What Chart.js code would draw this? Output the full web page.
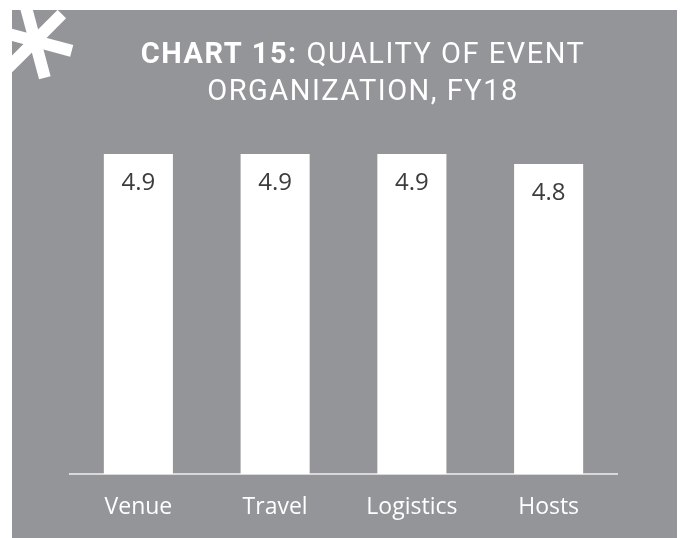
<!DOCTYPE html>
<html>
<head>
<meta charset="utf-8">
<script src="https://cdn.jsdelivr.net/npm/chart.js@4.4.0/dist/chart.umd.min.js"></script>
<style>
  html, body { margin: 0; padding: 0; background: #fff; }
  #wrap { position: relative; width: 680px; height: 538px; }
</style>
</head>
<body>
<div id="wrap"><canvas id="chart" width="680" height="538"></canvas></div>
<script>
const categories = ['Venue', 'Travel', 'Logistics', 'Hosts']
const scores = [4.9, 4.9, 4.9, 4.8]
const titleBold = 'CHART 15:'
const titleRest = ' QUALITY OF EVENT'
const titleLine2 = 'ORGANIZATION, FY18'

const PANEL = '#939598'

// gray panel, asterisk and two-line title
const backdrop = {
  id: 'backdrop',
  beforeDraw(chart) {
    const ctx = chart.ctx
    ctx.save()
    ctx.fillStyle = PANEL
    ctx.fillRect(12, 10, 665, 528)

    // asterisk, clipped to the panel
    ctx.beginPath()
    ctx.rect(12, 10, 665, 528)
    ctx.clip()
    ctx.fillStyle = '#fff'
    const cx = 35, cy = 41
    for (let i = 0; i < 6; i++) {
      const a = (15 + i * 60) * Math.PI / 180
      ctx.save()
      ctx.translate(cx, cy)
      ctx.rotate(a)
      ctx.fillRect(0, -6, 38, 12)
      ctx.restore()
    }
    ctx.restore()

    ctx.save()
    ctx.fillStyle = '#fff'
    ctx.textBaseline = 'alphabetic'
    ctx.letterSpacing = '1.5px'
    const bold = 'bold 29px Roboto'
    const reg = '29px Roboto'
    ctx.font = bold
    const wb = ctx.measureText(titleBold).width
    ctx.font = reg
    const wr = ctx.measureText(titleRest).width
    const x0 = 363 - (wb + wr) / 2
    ctx.font = bold
    ctx.textAlign = 'left'
    ctx.fillText(titleBold, x0, 63)
    ctx.font = reg
    ctx.fillText(titleRest, x0 + wb, 63)
    const w2 = ctx.measureText(titleLine2).width
    ctx.fillText(titleLine2, 363 - w2 / 2, 100)
    ctx.restore()
  }
}

// value inside the top of each bar
const barValues = {
  id: 'barValues',
  afterDatasetsDraw(chart) {
    const ctx = chart.ctx
    const meta = chart.getDatasetMeta(0)
    ctx.save()
    ctx.fillStyle = '#3c3c3c'
    ctx.font = '24px "Open Sans"'
    ctx.textAlign = 'center'
    ctx.textBaseline = 'middle'
    meta.data.forEach((bar, i) => {
      ctx.fillText(scores[i].toFixed(1), bar.x, bar.y + 29)
    })
    ctx.restore()
  }
}

new Chart(document.getElementById('chart'), {
  type: 'bar',
  data: {
    labels: categories,
    datasets: [{
      data: scores,
      backgroundColor: '#ffffff',
      borderWidth: 0,
      barPercentage: 0.505,
      categoryPercentage: 1.0,
    }],
  },
  options: {
    responsive: false,
    animation: false,
    layout: { padding: { top: 144, left: 70, right: 63, bottom: 0 } },
    plugins: {
      legend: { display: false },
      title: { display: false },
      tooltip: { enabled: false },
    },
    scales: {
      x: {
        grid: { display: false, drawTicks: false },
        border: { display: true, color: '#d9d9da', width: 2 },
        ticks: {
          color: '#ffffff',
          font: { family: '"Open Sans"', size: 23 },
          padding: 20,
        },
        afterFit(scale) { scale.height = 64 },
      },
      y: {
        display: false,
        min: 1.7,
        max: 5.0,
      },
    },
  },
  plugins: [backdrop, barValues],
})
</script>
</body>
</html>
